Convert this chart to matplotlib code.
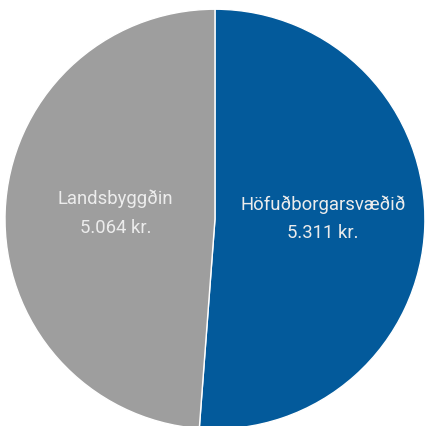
import matplotlib
matplotlib.use("Agg")
import matplotlib.pyplot as plt

categories = ["Höfuðborgarsvæðið", "Landsbyggðin"]
values = [5311, 5064]
value_labels = ["5.311 kr.", "5.064 kr."]
colors = ["#035a9b", "#9e9e9e"]

plt.rcParams['font.family'] = ['Roboto', 'DejaVu Sans']

fig = plt.figure(figsize=(4.25, 4.27), dpi=100)
ax = fig.add_axes([0.0118, -0.0096, 0.988, 0.988])
labels = [f"{c}\n{v}" for c, v in zip(categories, value_labels)]
wedges, texts = ax.pie(values, colors=colors, startangle=90, counterclock=False,
                       labels=labels, labeldistance=0.5,
                       wedgeprops=dict(edgecolor="white", linewidth=1),
                       textprops=dict(color="#ececec", fontsize=13.3, ha="center", va="center",
                                      linespacing=1.75))
# small label nudges (data units)
nudges = [(0.015, 0.025), (0.025, 0.015)]
for t, (dx, dy) in zip(texts, nudges):
    x, y = t.get_position()
    t.set_position((x + dx, y + dy))
ax.set_xlim(-1, 1)
ax.set_ylim(-1, 1)
ax.set_aspect('equal')
ax.axis('off')
fig.savefig("out.png", dpi=100)
